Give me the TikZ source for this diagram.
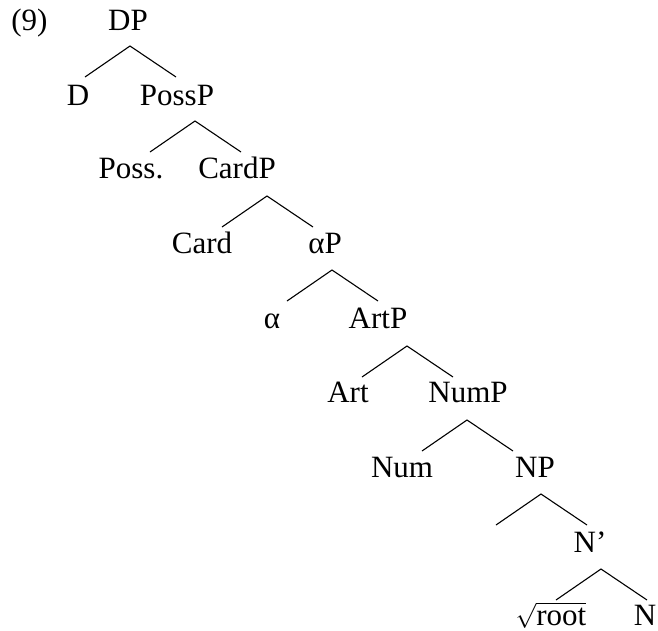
\documentclass[tikz,border=0pt]{standalone}
\usepackage{fontspec}
\setmainfont{Liberation Serif}
\begin{document}
\begin{tikzpicture}[x=1pt,y=-1pt,
  lbl/.style={anchor=base,inner sep=0pt,font=\fontsize{31}{37}\selectfont},
  br/.style={line width=1.1pt}]
\useasboundingbox (0,0) rectangle (658,630);
% labels
\node[lbl] (ex) at (29.5,30) {(9)};
\node[lbl] (DP) at (128,30) {DP};
\node[lbl] (D) at (78,105) {D};
\node[lbl] (PossP) at (177,105) {PossP};
\node[lbl] (Poss) at (131,178) {Poss.};
\node[lbl] (CardP) at (237,178) {CardP};
\node[lbl] (Card) at (202,253) {Card};
\node[lbl] (aP) at (325,253) {αP};
\node[lbl] (a) at (272,328) {α};
\node[lbl] (ArtP) at (378,328) {ArtP};
\node[lbl] (Art) at (348,402) {Art};
\node[lbl] (NumP) at (468,402) {NumP};
\node[lbl] (Num) at (402,477) {Num};
\node[lbl] (NP) at (535,477) {NP};
\node[lbl] (Nbar) at (590,552) {N’};
\node[lbl] (root) at (551,625) {$\sqrt{\mbox{root}}$};
\node[lbl] (N) at (645,625) {N};
% branch points
\foreach \i/\ax/\ay in {0/130/46,1/195/121,2/267/196,3/332/270,4/407/346,5/467/420,6/541/494,7/601/569}{
  \coordinate (ap\i) at (\ax,\ay);
  \coordinate (le\i) at (\ax-45,\ay+31);
  \coordinate (re\i) at (\ax+46,\ay+31);
  \draw[br] (le\i) -- (ap\i) -- (re\i);
}
\end{tikzpicture}
\end{document}
